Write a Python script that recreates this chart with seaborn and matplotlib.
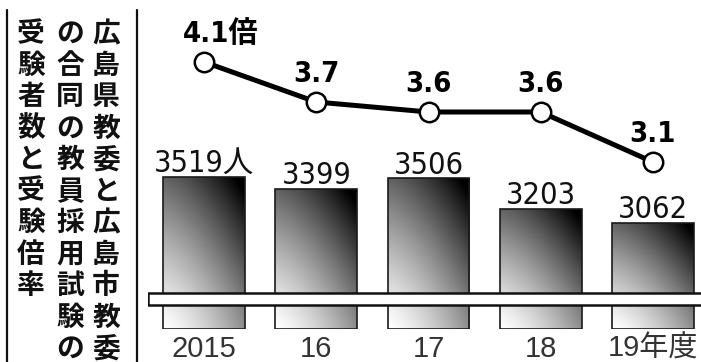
import numpy as np
import pandas as pd
import matplotlib
matplotlib.use("Agg")
import matplotlib.pyplot as plt
from matplotlib import font_manager as fm
from matplotlib.lines import Line2D
import seaborn as sns

# ---- data ----
years = ["2015", "16", "17", "18", "19年度"]
applicants = [3519, 3399, 3506, 3203, 3062]
ratios = [4.1, 3.7, 3.6, 3.6, 3.1]
applicant_unit = "人"
ratio_unit = "倍"
title_columns = ["広島県教委と広島市教委", "の合同の教員採用試験の", "受験者数と受験倍率"]

sns.set_theme(style="white")
plt.rcParams["font.family"] = ["Liberation Sans", "Noto Sans CJK JP", "DejaVu Sans"]

avail = {f.name for f in fm.fontManager.ttflist}
narrow = "Liberation Sans Narrow" if "Liberation Sans Narrow" in avail else "DejaVu Sans"
num_family = [narrow, "Noto Sans CJK JP"]
cjk = ["Noto Sans CJK JP"]

W, H = 701, 362
fig = plt.figure(figsize=(W / 100, H / 100), dpi=100)
fig.patch.set_facecolor("white")

def fx(px):
    return px / W

def fy(py):
    return 1 - py / H

# main axes geometry (pixels)
ax_left, ax_bottom_px, ax_top_px = 148, 329, 0
ax_width = 561
rect = [fx(ax_left), fy(ax_bottom_px), ax_width / W, (ax_bottom_px - ax_top_px) / H]
ax = fig.add_axes(rect)
base = 2000
ylim_bar = (base, 5290)

df = pd.DataFrame({"year": years, "applicants": applicants})
sns.barplot(data=df, x="year", y="applicants", ax=ax, width=0.73, color="white",
            edgecolor="#1a1a1a", linewidth=1.2, saturation=1, zorder=2)

# gradient fill in bars
nu, nv = 120, 200
u = np.linspace(0, 1, nu)[None, :]
v = np.linspace(0, 1, nv)[:, None]
dark = 0.45 * u ** 1.4 + 0.62 * v ** 1.2
gray = 1 - np.clip(dark, 0, 1)
for p, val in zip(ax.patches, applicants):
    x0, w = p.get_x(), p.get_width()
    p.set_y(base)
    p.set_height(val - base)
    p.set_facecolor("none")
    p.set_zorder(3)
    im = ax.imshow(gray, extent=[x0, x0 + w, base, val], aspect="auto", cmap="gray",
                   vmin=0, vmax=1, origin="lower", zorder=2, interpolation="bilinear")
    im.set_clip_path(p)
    lab = f"{val}" + (applicant_unit if val == applicants[0] else "")
    ax.annotate(lab, (x0 + w / 2, val), xytext=(0, 3.5), textcoords="offset points",
                ha="center", va="baseline", fontsize=22, family=num_family,
                fontstretch="condensed", color="#111111")

# broken-axis band
ax.axhspan(2240, 2360, xmin=0, xmax=1, facecolor="white", edgecolor="#111111",
           linewidth=1.8, zorder=4)

ax.set_xlim(-0.5, 4.5)
ax.set_ylim(*ylim_bar)
for s in ax.spines.values():
    s.set_visible(False)
ax.set_yticks([])
ax.set_xlabel("")
ax.set_ylabel("")
ax.tick_params(axis="x", length=0, pad=4)
for t in ax.get_xticklabels():
    t.set_fontsize(21)
    t.set_color("#333333")
    t.set_family(["Liberation Sans", "Noto Sans CJK JP"])

# line axes
ax2 = fig.add_axes(rect)
ax2.patch.set_visible(False)
pos = np.arange(len(ratios))
sns.lineplot(x=pos, y=ratios, ax=ax2, color="black", linewidth=3.6, marker="o",
             markersize=14, markerfacecolor="white", markeredgecolor="black",
             markeredgewidth=1.8, zorder=5)
ax2.set_xlim(-0.5, 4.5)
ax2.set_ylim(1.43, 4.72)
ax2.axis("off")
for i, r in enumerate(ratios):
    if i == 0:
        ax2.annotate(f"{r}{ratio_unit}", (i, r), xytext=(-15, 14.4),
                     textcoords="offset points", ha="left", va="baseline",
                     fontsize=21, fontweight="bold", family=num_family,
                     fontstretch="condensed", color="black")
    else:
        ax2.annotate(f"{r}", (i, r), xytext=(0, 14.4), textcoords="offset points",
                     ha="center", va="baseline", fontsize=21, fontweight="bold",
                     family=num_family, fontstretch="condensed", color="black")

# title block with vertical text
col_x = [106, 70, 31]
for cx, col in zip(col_x, title_columns):
    fig.text(fx(cx), fy(20), "\n".join(col), ha="center", va="top", fontsize=20,
             fontweight="bold", family=cjk, color="#111111", linespacing=1.16)

for lx in (7, 137):
    fig.add_artist(Line2D([fx(lx), fx(lx)], [0, fy(10)], transform=fig.transFigure,
                          color="#111111", linewidth=1.6))

fig.savefig("out.png", dpi=100, facecolor="white")
